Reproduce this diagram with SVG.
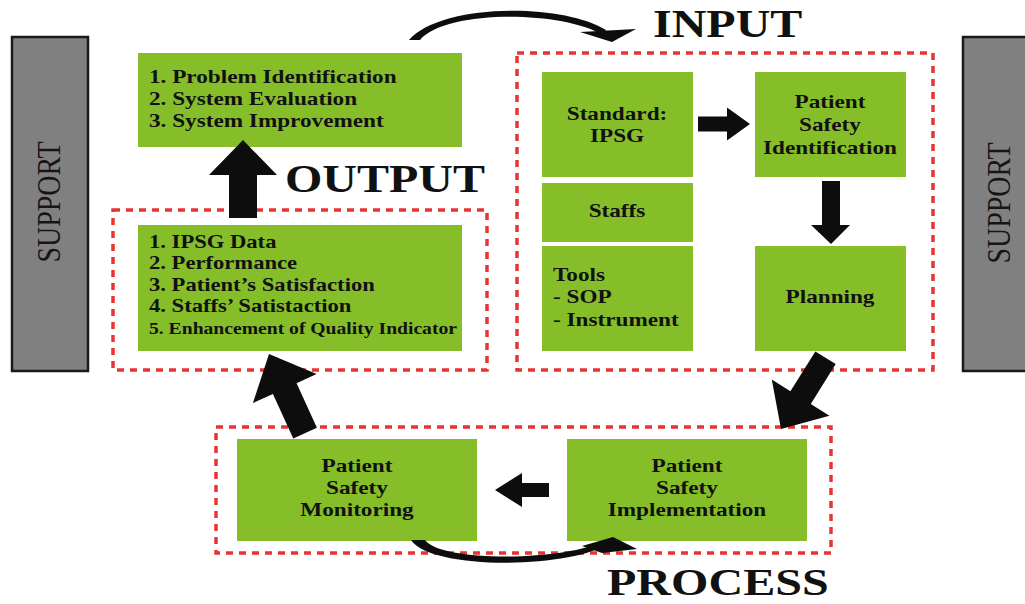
<svg xmlns="http://www.w3.org/2000/svg" width="1025" height="604" viewBox="0 0 1025 604">
<style>
.box{fill:#86BE2A;}
.sup{fill:#808080;stroke:#1a1a1a;stroke-width:2.5;}
.dash{fill:none;stroke:#E8342E;stroke-width:3.5;stroke-dasharray:7 6;}
.t{font-family:"Liberation Serif","Times New Roman",serif;font-weight:bold;font-size:19.5px;fill:#111;}
.s{font-size:19px;}
.xs{font-size:16.5px;}
.title{font-family:"Liberation Serif","Times New Roman",serif;font-weight:bold;font-size:40px;fill:#111;}
.supt{font-family:"Liberation Serif","Times New Roman",serif;font-size:28px;fill:#151515;}
.arr{fill:#0d0d0d;}
</style>
<rect width="1025" height="604" fill="#fff"/>

<g id="support-left">
<rect class="sup" x="12" y="37" width="76" height="334"/>
<text class="supt" text-anchor="middle" transform="translate(60,202) rotate(-90) scale(1,1.2)">SUPPORT</text>
</g>
<g id="support-right">
<rect class="sup" x="963" y="37" width="70" height="334"/>
<text class="supt" text-anchor="middle" transform="translate(1010,203) rotate(-90) scale(1,1.2)">SUPPORT</text>
</g>

<g id="groups">
<rect class="dash" x="113" y="210" width="374" height="160"/>
<rect class="dash" x="517" y="53" width="416" height="317"/>
<rect class="dash" x="216" y="427" width="615" height="126"/>
</g>

<g id="labels">
<text class="title" transform="translate(653,37) scale(1.2,1)">INPUT</text>
<text class="title" transform="translate(285,192) scale(1.2,1)">OUTPUT</text>
<text class="title" style="font-size:38px" transform="translate(607,595) scale(1.265,1)">PROCESS</text>
</g>

<g id="evaluation">
<rect class="box" x="138" y="53" width="324" height="94"/>
<text class="t" transform="translate(149,0) scale(1.19,1)"><tspan x="0" y="83">1. Problem Identification</tspan><tspan x="0" y="105">2. System Evaluation</tspan><tspan x="0" y="127">3. System Improvement</tspan></text>
</g>

<g id="output">
<rect class="box" x="138" y="225" width="324" height="126"/>
<text class="t s" transform="translate(149,0) scale(1.19,1)"><tspan x="0" y="248">1. IPSG Data</tspan><tspan x="0" y="269">2. Performance</tspan><tspan x="0" y="291">3. Patient’s Satisfaction</tspan><tspan x="0" y="312">4. Staffs’ Satistaction</tspan><tspan x="0" y="334" class="xs">5. Enhancement of Quality Indicator</tspan></text>
</g>

<g id="standard">
<rect class="box" x="542" y="72" width="151" height="105"/>
<text class="t" text-anchor="middle" transform="translate(617,0) scale(1.19,1)"><tspan x="0" y="120">Standard:</tspan><tspan x="0" y="142">IPSG</tspan></text>
</g>
<g id="staffs">
<rect class="box" x="542" y="183" width="151" height="59"/>
<text class="t" text-anchor="middle" transform="translate(617,0) scale(1.19,1)"><tspan x="0" y="217">Staffs</tspan></text>
</g>
<g id="tools">
<rect class="box" x="542" y="246" width="151" height="105"/>
<text class="t" transform="translate(553,0) scale(1.19,1)"><tspan x="0" y="281">Tools</tspan><tspan x="0" y="303">- SOP</tspan><tspan x="0" y="326">- Instrument</tspan></text>
</g>
<g id="identification">
<rect class="box" x="755" y="72" width="151" height="105"/>
<text class="t" text-anchor="middle" transform="translate(830,0) scale(1.19,1)"><tspan x="0" y="108">Patient</tspan><tspan x="0" y="131">Safety</tspan><tspan x="0" y="154">Identification</tspan></text>
</g>
<g id="planning">
<rect class="box" x="755" y="246" width="151" height="105"/>
<text class="t" text-anchor="middle" transform="translate(830,0) scale(1.19,1)"><tspan x="0" y="303">Planning</tspan></text>
</g>
<g id="monitoring">
<rect class="box" x="237" y="439" width="240" height="102"/>
<text class="t" text-anchor="middle" transform="translate(357,0) scale(1.19,1)"><tspan x="0" y="472">Patient</tspan><tspan x="0" y="494">Safety</tspan><tspan x="0" y="516">Monitoring</tspan></text>
</g>
<g id="implementation">
<rect class="box" x="567" y="439" width="240" height="102"/>
<text class="t" text-anchor="middle" transform="translate(687,0) scale(1.19,1)"><tspan x="0" y="472">Patient</tspan><tspan x="0" y="494">Safety</tspan><tspan x="0" y="516">Implementation</tspan></text>
</g>

<g id="connectors">
<polygon class="arr" points="243,140 277,175 257,175 257,218 229,218 229,175 209,175"/>
<polygon class="arr" points="750,124 727,107.5 727,116.5 698,116.5 698,131.5 727,131.5 727,140.5"/>
<polygon class="arr" points="831,244 850,225 840,225 840,181 822,181 822,225 811,225"/>
<polygon class="arr" points="495,490 522,473 522,483 549,483 549,497 522,497 522,507"/>
<polygon class="arr" points="0,0 35,38 13,38 13,87 -13,87 -13,38 -35,38" transform="translate(269,354) rotate(-24.5)"/>
<polygon class="arr" points="0,0 34,37 12,37 12,84 -12,84 -12,37 -34,37" transform="translate(781,429) rotate(-148)"/>
<path class="arr" d="M409 40 C440 4 560 2 606 30 L603 35 C560 10 445 10 420 40 Z"/>
<polygon class="arr" points="580,32 636,29 612,42"/>
<path class="arr" d="M411 540 C430 570 570 570 612 542 L606 540 C565 562 440 562 425 540 Z"/>
<polygon class="arr" points="582,546 613,537 637,549 602,553"/>
</g>
</svg>
